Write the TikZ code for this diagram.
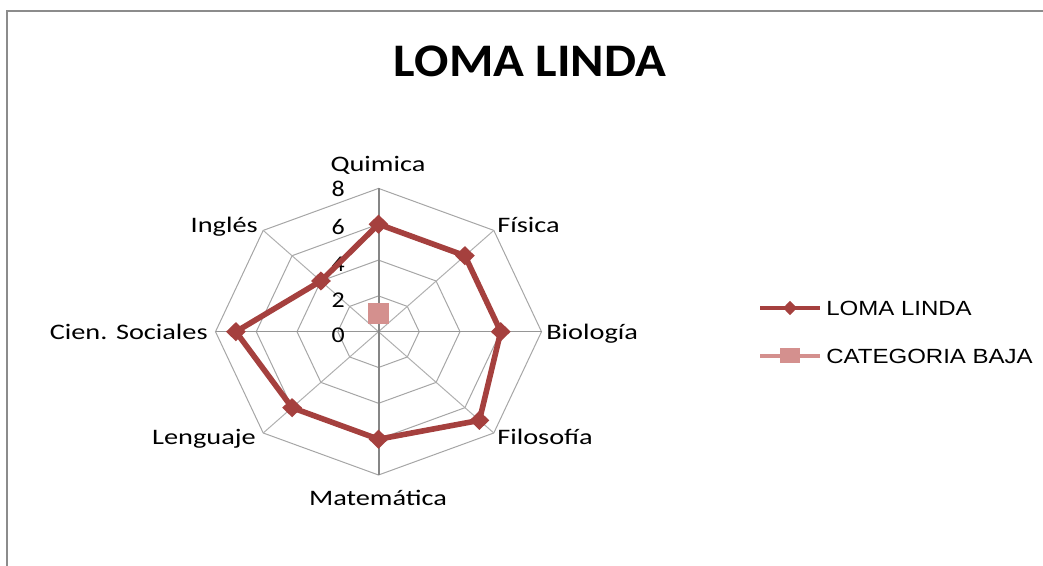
\documentclass[tikz,border=0pt]{standalone}
\usepackage{fontspec}
\setmainfont{Carlito}
\newfontfamily\legendfont{Liberation Sans}
\usepackage{graphicx}
\usepackage{xcolor}
\usetikzlibrary{shapes.geometric}
\definecolor{lomared}{RGB}{165,64,62}
\definecolor{bajapink}{RGB}{212,144,142}
\definecolor{framegray}{RGB}{140,140,140}
\newcommand{\stretchx}[2]{\scalebox{#1}[1]{#2}}

\begin{document}
\begin{tikzpicture}[x=0.75pt,y=0.75pt,yscale=-1,xscale=1,
  ring/.style={color={rgb, 255:red, 166; green, 166; blue, 166 }, line width=0.75pt},
  spoke/.style={color={rgb, 255:red, 176; green, 176; blue, 176 }, line width=0.75pt},
  axisline/.style={color={rgb, 255:red, 134; green, 134; blue, 134 }, line width=1.5pt},
  catlabel/.style={inner sep=0pt, font=\fontsize{16.6}{18}\selectfont},
  numlabel/.style={inner sep=0pt, anchor=east, font=\fontsize{16.9}{18}\selectfont},
  lomaline/.style={color=lomared, line width=4.2pt, line join=round},
  lomamark/.style={diamond, fill=lomared, inner sep=0pt, minimum width=15pt, minimum height=14.5pt},
  bajamark/.style={rectangle, fill=bajapink, inner sep=0pt, minimum width=15.75pt, minimum height=15.75pt},
  legendtext/.style={anchor=west, inner sep=0pt, font=\legendfont\fontsize{15.4}{17}\selectfont}
]
\useasboundingbox (0,0) rectangle (1043,566);

%Straight Lines: chart frame
\draw [color=framegray, line width=1.5pt] (7,566) -- (7,11) -- (1043,11) ;

%Text: title
\node [inner sep=0pt, font=\fontsize{35}{40}\selectfont\bfseries] (title) at (530,61) {\stretchx{1.09}{LOMA LINDA}};

%Shape: ring 8
\draw [ring] (378.5,188.4) -- (493.8,230.4) -- (541.5,331.7) -- (493.8,433) -- (378.5,475) -- (263.2,433) -- (215.5,331.7) -- (263.2,230.4) -- cycle ;
%Shape: ring 6
\draw [ring] (378.5,224.2) -- (464.9,255.7) -- (500.75,331.7) -- (464.9,407.7) -- (378.5,439.2) -- (292.1,407.7) -- (256.25,331.7) -- (292.1,255.7) -- cycle ;
%Shape: ring 4
\draw [ring] (378.5,260.1) -- (436.1,281) -- (460,331.7) -- (436.1,382.4) -- (378.5,403.3) -- (320.9,382.4) -- (297,331.7) -- (320.9,281) -- cycle ;
%Shape: ring 2
\draw [ring] (378.5,295.9) -- (407.3,306.4) -- (419.25,331.7) -- (407.3,357) -- (378.5,367.5) -- (349.7,357) -- (337.75,331.7) -- (349.7,306.4) -- cycle ;

%Straight Lines: spokes
\draw [spoke] (263.2,230.4) -- (493.8,433) ;
\draw [spoke] (493.8,230.4) -- (263.2,433) ;
\draw [color={rgb, 255:red, 150; green, 150; blue, 150 }, line width=1.1pt] (215.5,331.7) -- (541.5,331.7) ;
\draw [axisline] (378.5,188.4) -- (378.5,475) ;

%Text: axis values
\node [numlabel] (v8) at (345,189) {\stretchx{1.15}{8}};
\node [numlabel] (v6) at (345,227) {\stretchx{1.15}{6}};
\node [numlabel] (v4) at (345,264) {\stretchx{1.15}{4}};
\node [numlabel] (v2) at (345,300) {\stretchx{1.15}{2}};
\node [numlabel] (v0) at (345,335) {\stretchx{1.15}{0}};

%Series: LOMA LINDA
\coordinate (qui) at (378.5,224.2) ;
\coordinate (fis) at (464.9,255.7) ;
\coordinate (bio) at (500.75,331.7) ;
\coordinate (fil) at (479.4,420.4) ;
\coordinate (mat) at (378.5,439.2) ;
\coordinate (len) at (292.1,407.7) ;
\coordinate (soc) at (235.9,331.7) ;
\coordinate (ing) at (320.9,281) ;
\draw [lomaline] (qui) -- (fis) -- (bio) -- (fil) -- (mat) -- (len) -- (soc) -- (ing) -- cycle ;
\node [lomamark] (mqui) at (qui) {};
\node [lomamark] (mfis) at (fis) {};
\node [lomamark] (mbio) at (bio) {};
\node [lomamark] (mfil) at (fil) {};
\node [lomamark] (mmat) at (mat) {};
\node [lomamark] (mlen) at (len) {};
\node [lomamark] (msoc) at (soc) {};
\node [lomamark] (ming) at (ing) {};

%Series: CATEGORIA BAJA
\node [bajamark] (baja) at (378.5,313.8) {};

%Text: categories
\node [catlabel, anchor=base] (lqui) at (378,172) {\stretchx{1.28}{Quimica}};
\node [catlabel, anchor=base west] (lfis) at (497,233) {\stretchx{1.28}{Física}};
\node [catlabel, anchor=base west] (lbio) at (546,340) {\stretchx{1.28}{Biología}};
\node [catlabel, anchor=base west] (lfil) at (497,445) {\stretchx{1.28}{Filosofía}};
\node [catlabel, anchor=base] (lmat) at (378,506) {\stretchx{1.28}{Matemática}};
\node [catlabel, anchor=base east] (llen) at (256,445) {\stretchx{1.28}{Lenguaje}};
\node [catlabel, anchor=base east] (lsoc) at (208,340) {\stretchx{1.28}{Cien. Sociales}};
\node [catlabel, anchor=base east] (ling) at (258,233) {\stretchx{1.28}{Inglés}};

%Legend
\coordinate (lg1a) at (760,308) ;
\coordinate (lg1b) at (820,308) ;
\draw [color=lomared, line width=3pt] (lg1a) -- (lg1b) ;
\node [lomamark, minimum width=10.5pt, minimum height=11pt] (lgm1) at (790,308) {};
\node [legendtext] (lgt1) at (826,308) {\stretchx{1.17}{LOMA LINDA}};
\coordinate (lg2a) at (760,356) ;
\coordinate (lg2b) at (820,356) ;
\draw [color=bajapink, line width=3pt] (lg2a) -- (lg2b) ;
\node [bajamark, minimum width=15pt, minimum height=11.25pt] (lgm2) at (790,356) {};
\node [legendtext] (lgt2) at (826,356) {\stretchx{1.17}{CATEGORIA BAJA}};

\end{tikzpicture}
\end{document}
